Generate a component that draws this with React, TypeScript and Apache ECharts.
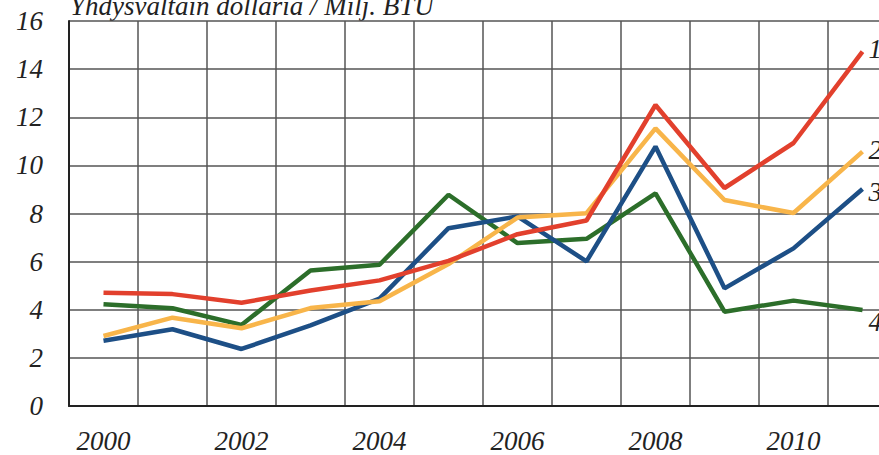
import React, { useEffect, useRef } from "react";
import * as echarts from "echarts";

const years = ["2000", "2001", "2002", "2003", "2004", "2005", "2006", "2007", "2008", "2009", "2010", "2011"];
const series1 = [4.71, 4.65, 4.29, 4.8, 5.22, 6.03, 7.14, 7.71, 12.51, 9.06, 10.93, 14.73];
const series2 = [2.91, 3.67, 3.23, 4.07, 4.35, 5.9, 7.83, 8.01, 11.54, 8.56, 8.02, 10.57];
const series3 = [2.71, 3.19, 2.37, 3.35, 4.46, 7.39, 7.88, 6.01, 10.78, 4.89, 6.55, 9.02];
const series4 = [4.23, 4.06, 3.37, 5.63, 5.87, 8.78, 6.77, 6.95, 8.84, 3.92, 4.38, 3.99];
const seriesNames = ["1", "2", "3", "4"];
const unitTitle = "Yhdysvaltain dollaria / Milj. BTU";

const FONT = "'Liberation Serif', 'DejaVu Serif', serif";

export default function App() {
  const ref = useRef<HTMLDivElement>(null);
  useEffect(() => {
    if (!ref.current) return;
    const chart = echarts.init(ref.current, undefined, { renderer: "svg" });
    const mk = (name: string, data: number[], color: string, dy: number) => ({
      name,
      type: "line",
      data,
      symbol: "none",
      lineStyle: { color, width: 4.5 },
      itemStyle: { color },
      endLabel: {
        show: true,
        formatter: name,
        color: "#222",
        fontFamily: FONT,
        fontStyle: "italic",
        fontSize: 27,
        distance: 6,
        offset: [0, dy],
      },
    });
    chart.setOption({
      animation: false,
      backgroundColor: "#ffffff",
      grid: { left: 69, top: 21, width: 828, height: 385, containLabel: false },
      xAxis: {
        type: "category",
        data: years,
        boundaryGap: true,
        axisLine: { lineStyle: { color: "#222", width: 2 } },
        axisTick: { show: false },
        axisLabel: {
          interval: 1,
          fontFamily: FONT,
          fontStyle: "italic",
          fontSize: 27,
          color: "#222",
          margin: 21,
        },
        splitLine: { show: true, interval: 0, lineStyle: { color: "#555", width: 1.5 } },
      },
      yAxis: {
        type: "value",
        min: 0,
        max: 16,
        interval: 2,
        axisLine: { show: true, lineStyle: { color: "#222", width: 2 } },
        axisTick: { show: false },
        axisLabel: {
          fontFamily: FONT,
          fontStyle: "italic",
          fontSize: 27,
          color: "#222",
          margin: 26,
          padding: [6, 0, 0, 0],
        },
        splitLine: { show: true, lineStyle: { color: "#555", width: 1.5 } },
      },
      graphic: [
        {
          type: "text",
          left: 70,
          top: -8,
          style: {
            text: unitTitle,
            fontFamily: FONT,
            fontStyle: "italic",
            fontSize: 27,
            fill: "#222",
          },
        },
      ],
      series: [
        mk(seriesNames[3], series4, "#2c6e2a", 12),
        mk(seriesNames[2], series3, "#1d4f86", 3),
        mk(seriesNames[1], series2, "#f8b54a", -2),
        mk(seriesNames[0], series1, "#e2402d", -3),
      ],
    });
    return () => chart.dispose();
  }, []);
  return (
    <div style={{ position: "fixed", left: 0, top: 0, width: 879, height: 455, overflow: "hidden", background: "#fff" }}>
      <div ref={ref} style={{ width: 920, height: 455 }} />
    </div>
  );
}
